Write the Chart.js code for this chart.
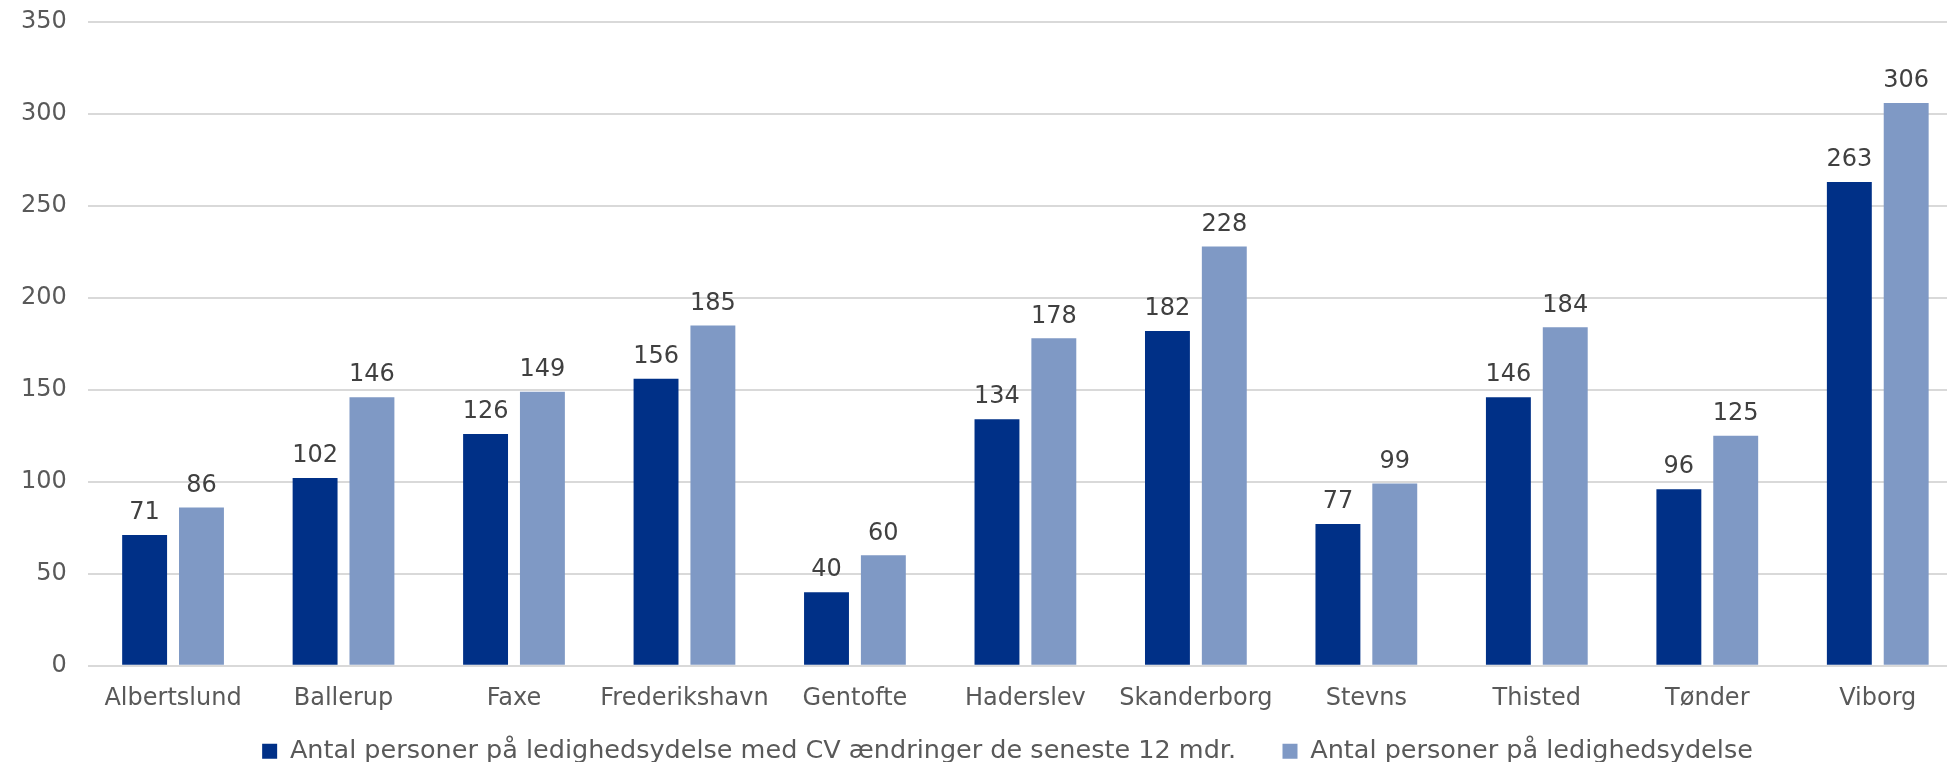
<!DOCTYPE html>
<html>
<head>
<meta charset="utf-8">
<script src="https://cdn.jsdelivr.net/npm/chart.js@4"></script>
<style>
  html, body { margin: 0; padding: 0; background: #fff; overflow: hidden; }
  #wrap { width: 2015px; height: 762px; }
</style>
</head>
<body>
<div id="wrap"><canvas id="grafica"></canvas></div>
<script>
// Kommuner og værdier
var kommuner = ['Albertslund', 'Ballerup', 'Faxe', 'Frederikshavn', 'Gentofte', 'Haderslev', 'Skanderborg', 'Stevns', 'Thisted', 'Tønder', 'Viborg'];
var medCvAendringer = [71, 102, 126, 156, 40, 134, 182, 77, 146, 96, 263];
var ledighedsydelse = [86, 146, 149, 185, 60, 178, 228, 99, 184, 125, 306];
var yTicks = [0, 50, 100, 150, 200, 250, 300, 350];

var navne = [
    'Antal personer på ledighedsydelse med CV ændringer de seneste 12 mdr.',
    'Antal personer på ledighedsydelse'
];

var skrift = 'DejaVu Sans, Verdana, sans-serif';

// Tal over søjlerne
var vaerdiPlugin = {
    id: 'vaerdier',
    afterDatasetsDraw: function(chart) {
        var ctx = chart.ctx;
        ctx.save();
        ctx.font = '24px ' + skrift;
        ctx.fillStyle = '#404040';
        ctx.textAlign = 'center';
        ctx.textBaseline = 'bottom';
        chart.data.datasets.forEach(function(ds, i) {
            chart.getDatasetMeta(i).data.forEach(function(bar, j) {
                ctx.fillText(ds.data[j], bar.x, bar.y - 10);
            });
        });
        ctx.restore();
    }
};

var ctx = document.getElementById('grafica').getContext('2d');
new Chart(ctx, {
    type: 'bar',
    data: {
        labels: kommuner,
        datasets: [{
            label: navne[0],
            data: medCvAendringer,
            backgroundColor: '#003087',
            categoryPercentage: 0.667,
            barPercentage: 0.79
        }, {
            label: navne[1],
            data: ledighedsydelse,
            backgroundColor: '#7F99C5',
            categoryPercentage: 0.667,
            barPercentage: 0.79
        }]
    },
    options: {
        responsive: true,
        maintainAspectRatio: false,
        animation: false,
        layout: { padding: { left: 0, right: 0, top: 0, bottom: -12 } },
        plugins: {
            tooltip: { enabled: false },
            legend: {
                position: 'bottom',
                labels: {
                    font: { family: skrift, size: 25.5 },
                    color: '#595959',
                    boxWidth: 15,
                    boxHeight: 15,
                    padding: 14,
                    generateLabels: function(chart) {
                        var items = Chart.defaults.plugins.legend.labels.generateLabels(chart);
                        // lidt ekstra luft efter første punkt
                        items[0].text = items[0].text + '    ';
                        return items;
                    }
                }
            }
        },
        scales: {
            x: {
                grid: { display: false },
                border: { display: false },
                ticks: {
                    font: { family: skrift, size: 24 },
                    color: '#595959',
                    padding: 11,
                    maxRotation: 0,
                    autoSkip: false
                }
            },
            y: {
                min: 0,
                max: 350,
                afterBuildTicks: function(axis) {
                    axis.ticks = yTicks.map(function(v) { return { value: v }; });
                },
                afterFit: function(axis) { axis.paddingTop = 22; },
                grid: { color: '#D9D9D9', lineWidth: 2, drawTicks: false },
                border: { display: false },
                ticks: {
                    font: { family: skrift, size: 24 },
                    color: '#595959',
                    padding: 21
                }
            },
            hoejre: {
                position: 'right',
                display: true,
                grid: { display: false },
                border: { display: false },
                ticks: { display: false },
                afterFit: function(axis) { axis.width = 52; }
            }
        }
    },
    plugins: [vaerdiPlugin]
});
</script>
</body>
</html>
